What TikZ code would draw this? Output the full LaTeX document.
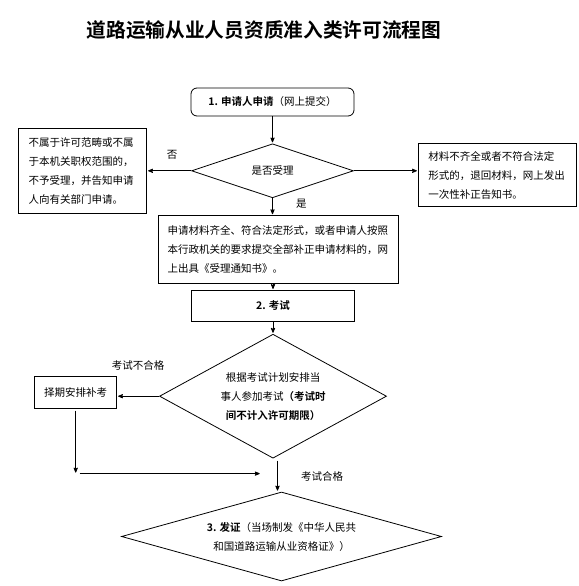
\documentclass[tikz,border=0pt]{standalone}
\usepackage{fontspec}
\newfontfamily\cjk[BoldFont={Noto Sans CJK SC Bold}]{Noto Sans CJK SC}
\usetikzlibrary{arrows,shapes.geometric,positioning}

\begin{document}
\begin{tikzpicture}[x=1pt,y=1pt,->,>=stealth',shorten >=1pt,auto,node distance=20pt,
                    line width=0.8pt,font=\cjk\fontsize{10.5}{19}\selectfont]
  \tikzstyle{box}=[draw,rectangle,align=left,inner xsep=10pt,inner ysep=0pt]
  \tikzstyle{stepbox}=[draw,rectangle,align=center,inner sep=0pt]
  \tikzstyle{decision}=[draw,diamond,align=center,inner sep=0pt]

  \useasboundingbox (0,0) rectangle (578,-586);

  \node[font=\cjk\bfseries\fontsize{19.7}{20}\selectfont] (title) at (264,-30)
       {道路运输从业人员资质准入类许可流程图};

  \node[stepbox,rounded corners=6pt,minimum width=163pt,minimum height=28pt] (apply) at (272.5,-102)
       {\textbf{1. 申请人申请}（网上提交）};
  \node[decision,minimum width=162pt,minimum height=54pt,aspect=3,below=27pt of apply] (accept) {是否受理};
  \node[box,text width=108pt,minimum height=85pt,left=44pt of accept] (refuse)
       {不属于许可范畴或不属\\于本机关职权范围的，\\不予受理，并告知申请\\人向有关部门申请。};
  \node[box,text width=138pt,minimum height=63pt,right=64pt of accept,yshift=-4.5pt] (correct)
       {材料不齐全或者不符合法定\\形式的，退回材料，网上发出\\一次性补正告知书。};
  \node[box,text width=222pt,minimum height=68pt,inner xsep=9pt,below=17pt of accept,xshift=6pt] (accepted)
       {申请材料齐全、符合法定形式，或者申请人按照\\本行政机关的要求提交全部补正申请材料的，网\\上出具《受理通知书》。};
  \node[stepbox,minimum width=163pt,minimum height=31pt,below=6pt of accepted,xshift=-5.5pt] (exam) {\textbf{2. 考试}};
  \node[decision,minimum width=227pt,minimum height=124pt,aspect=1.83,below=12pt of exam] (plan)
       {根据考试计划安排当\\事人参加考试\textbf{（考试时}\\\textbf{间不计入许可期限）}};
  \node[stepbox,minimum width=82pt,minimum height=32pt,left=42pt of plan,yshift=4pt] (retake) {择期安排补考};
  \node[decision,minimum width=320pt,minimum height=89pt,aspect=3.6,below=33pt of plan,xshift=8.5pt] (issue)
       {\textbf{3. 发证}（当场制发《中华人民共\\和国道路运输从业资格证》）};

  \coordinate[below=65pt of retake] (down);
  \coordinate[right=185pt of down] (join);

  \path (apply) edge (accept)
        (accept.west) edge node[above=8pt,pos=0.43] {否} (accept.west -| refuse.east)
        (accept.east) edge (accept.east -| correct.west)
        (accept.south) edge node[right=20pt,pos=0.35] {是} (accept.south |- accepted.north)
        (exam.north |- accepted.south) edge (exam.north)
        (exam) edge (plan)
        (plan.west) edge node[above=22pt] {考试不合格} (plan.west -| retake.east)
        ([yshift=-2pt]retake.south) edge (down)
        ([xshift=4pt]down) edge (join)
        ([xshift=4.5pt,yshift=-2pt]plan.south) edge node[right=20pt] {考试合格} ([xshift=4.5pt]plan.south |- issue.north);
\end{tikzpicture}
\end{document}
